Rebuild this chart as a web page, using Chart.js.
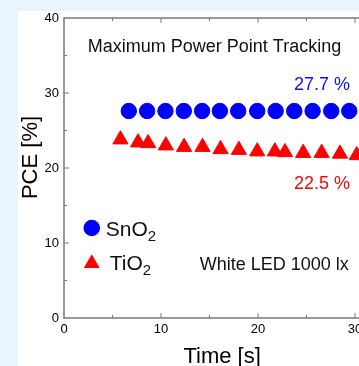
<!DOCTYPE html>
<html>
<head>
<meta charset="utf-8">
<script src="https://cdn.jsdelivr.net/npm/chart.js@4"></script>
<style>
  html, body { margin: 0; padding: 0; width: 359px; height: 366px; overflow: hidden; background: #e9f5fd; }
  #sheet { position: absolute; left: 18px; top: 11px; right: 0; bottom: 0; background: #fff; }
  #chart { position: absolute; left: 0; top: 0; }
</style>
</head>
<body>
<div id="sheet"></div>
<canvas id="chart" width="480" height="366"></canvas>
<script>
  // SnO2 (circles) and TiO2 (triangles) under MPPT, white LED 1000 lx
  const snTime = [6.68, 8.57, 10.46, 12.35, 14.24, 16.07, 17.96, 19.92, 21.82, 23.74, 25.63, 27.55, 29.41];
  const snPce = [27.6, 27.6, 27.6, 27.6, 27.6, 27.6, 27.6, 27.6, 27.6, 27.6, 27.6, 27.6, 27.6];
  const tiTime = [5.82, 7.64, 8.67, 10.5, 12.38, 14.28, 16.14, 18.03, 19.92, 21.74, 22.78, 24.66, 26.56, 28.45, 30.18];
  const tiPce = [23.8, 23.4, 23.3, 23.0, 22.8, 22.8, 22.5, 22.4, 22.2, 22.2, 22.1, 22.0, 22.0, 21.9, 21.7];
  const xTicks = [0, 10, 20, 30, 40];
  const yTicks = [0, 10, 20, 30, 40];

  const FONT = '"Liberation Sans", Arial, sans-serif';

  // text that sits inside the plot, placed in data units
  const notes = [
    { text: 'Maximum Power Point Tracking', x: 2.45, y: 35.45, size: 18, color: '#111' },
    { text: '27.7 %', x: 23.7, y: 30.4, size: 18, color: '#1010f0' },
    { text: '22.5 %', x: 23.7, y: 17.2, size: 18, color: '#ee0a0a' },
    { text: 'White LED 1000 lx', x: 14.0, y: 6.4, size: 18, color: '#111' }
  ];

  const legendItems = [
    { name: 'SnO', sub: '2', style: 'circle', color: '#0000ff', mx: 2.86, my: 12.0, tx: 4.31, ty: 10.93 },
    { name: 'TiO', sub: '2', style: 'triangle', color: '#ff0000', mx: 2.86, my: 7.28, tx: 4.72, ty: 6.4 }
  ];

  const frame = {
    id: 'frame',
    afterDraw(chart) {
      const { ctx, chartArea: a, scales: { x, y } } = chart;
      ctx.save();

      // axis box
      ctx.strokeStyle = '#7a7a7a';
      ctx.lineWidth = 1.5;
      ctx.beginPath();
      ctx.moveTo(a.left, a.top);
      ctx.lineTo(a.left, a.bottom);
      ctx.lineTo(a.right, a.bottom);
      ctx.lineTo(a.right, a.top);
      ctx.closePath();
      ctx.stroke();

      // inward ticks, minor every 5
      ctx.lineWidth = 1;
      ctx.beginPath();
      for (let v = 5; v < 40; v += 5) {
        const len = v % 10 ? 3 : 5;
        const px = x.getPixelForValue(v);
        ctx.moveTo(px, a.bottom); ctx.lineTo(px, a.bottom - len);
        ctx.moveTo(px, a.top); ctx.lineTo(px, a.top + len);
        const py = y.getPixelForValue(v);
        ctx.moveTo(a.left, py); ctx.lineTo(a.left + len, py);
        ctx.moveTo(a.right, py); ctx.lineTo(a.right - len, py);
      }
      ctx.stroke();

      // notes
      ctx.textAlign = 'left';
      ctx.textBaseline = 'alphabetic';
      notes.forEach(n => {
        ctx.font = n.size + 'px ' + FONT;
        ctx.fillStyle = n.color;
        ctx.fillText(n.text, x.getPixelForValue(n.x), y.getPixelForValue(n.y));
      });

      // legend
      legendItems.forEach(it => {
        const cx = x.getPixelForValue(it.mx), cy = y.getPixelForValue(it.my);
        ctx.fillStyle = it.color;
        ctx.beginPath();
        if (it.style === 'circle') {
          ctx.arc(cx, cy, 8.3, 0, Math.PI * 2);
        } else {
          const r = 9.2;
          ctx.moveTo(cx, cy - r);
          ctx.lineTo(cx + r * Math.sin(2 * Math.PI / 3), cy + r / 2);
          ctx.lineTo(cx - r * Math.sin(2 * Math.PI / 3), cy + r / 2);
          ctx.closePath();
        }
        ctx.fill();
        const tx = x.getPixelForValue(it.tx), ty = y.getPixelForValue(it.ty);
        ctx.fillStyle = '#111';
        ctx.font = '21px ' + FONT;
        ctx.fillText(it.name, tx, ty);
        const w = ctx.measureText(it.name).width;
        ctx.font = '15px ' + FONT;
        ctx.fillText(it.sub, tx + w, ty + 5);
      });

      // axis titles
      ctx.fillStyle = '#000';
      ctx.font = '22px ' + FONT;
      ctx.textAlign = 'center';
      ctx.fillText('Time [s]', x.getPixelForValue(16.3), a.bottom + 45);
      ctx.save();
      ctx.translate(37, y.getPixelForValue(21.4));
      ctx.rotate(-Math.PI / 2);
      ctx.fillText('PCE [%]', 0, 0);
      ctx.restore();

      ctx.restore();
    }
  };

  new Chart(document.getElementById('chart'), {
    type: 'scatter',
    data: {
      datasets: [
        {
          label: 'SnO2',
          data: snTime.map((t, i) => ({ x: t, y: snPce[i] })),
          pointStyle: 'circle',
          pointRadius: 7.7,
          pointHoverRadius: 7.7,
          borderWidth: 1,
          backgroundColor: '#0000ff',
          borderColor: '#0000ff'
        },
        {
          label: 'TiO2',
          data: tiTime.map((t, i) => ({ x: t, y: tiPce[i] })),
          pointStyle: 'triangle',
          pointRadius: 8.8,
          pointHoverRadius: 8.8,
          borderWidth: 1,
          backgroundColor: '#ff0000',
          borderColor: '#ff0000'
        }
      ]
    },
    options: {
      responsive: false,
      animation: false,
      devicePixelRatio: 1,
      layout: { padding: { top: 18, right: 28, left: 0, bottom: 0 } },
      plugins: { legend: { display: false }, tooltip: { enabled: false } },
      scales: {
        x: {
          type: 'linear',
          min: 0, max: 40,
          afterFit: s => { s.height = 48; },
          afterBuildTicks: s => { s.ticks = xTicks.map(v => ({ value: v })); },
          grid: { display: false, drawTicks: false },
          border: { display: false },
          ticks: { color: '#000', padding: 4, font: { family: FONT, size: 13 } }
        },
        y: {
          type: 'linear',
          min: 0, max: 40,
          afterFit: s => { s.width = 64; },
          afterBuildTicks: s => { s.ticks = yTicks.map(v => ({ value: v })); },
          grid: { display: false, drawTicks: false },
          border: { display: false },
          ticks: { color: '#000', padding: 5, font: { family: FONT, size: 13 } }
        }
      }
    },
    plugins: [frame]
  });
</script>
</body>
</html>
